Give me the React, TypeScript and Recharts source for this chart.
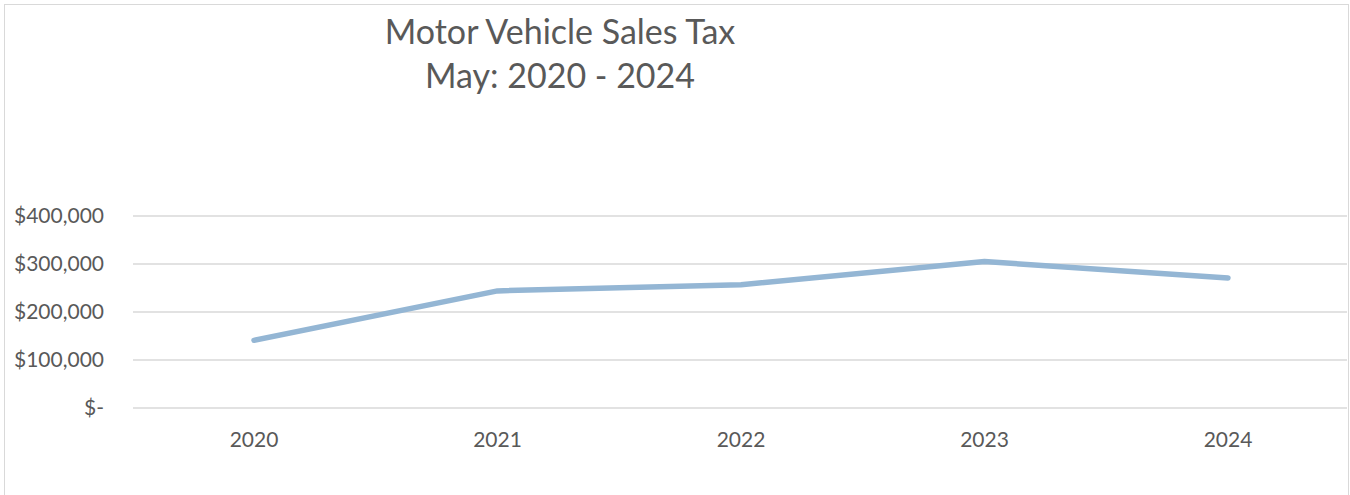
import React from 'react';
import { LineChart, Line, XAxis, YAxis, CartesianGrid } from 'recharts';

// Motor vehicle sales tax collected in May, by year
const years = ['2020', '2021', '2022', '2023', '2024'];
const salesTax = [141000, 244000, 257000, 305000, 271000];
const yTicks = [0, 100000, 200000, 300000, 400000];
const titleLines = ['Motor Vehicle Sales Tax', 'May: 2020 - 2024'];

const data = years.map((year, i) => ({ year, tax: salesTax[i] }));

const FONT = 'Lato, "Open Sans", sans-serif';
const TEXT = '#595959';
const GRID = '#d9d9d9';

const formatMoney = (v: number) => (v === 0 ? '$-' : '$' + v.toLocaleString('en-US'));

export default function App() {
  return (
    <div style={{ position: 'absolute', left: 0, top: 0, width: 1350, height: 495, background: '#fff', fontFamily: FONT }}>
      <div
        style={{
          position: 'absolute',
          left: 4,
          top: 4,
          width: 1345,
          height: 495,
          border: `1.5px solid ${GRID}`,
          boxSizing: 'border-box',
        }}
      />
      <svg width={1350} height={110} style={{ position: 'absolute', left: 0, top: 0 }}>
        <text x={560} y={44} textAnchor="middle" fontSize={34} fill={TEXT} fontFamily={FONT}>
          {titleLines[0]}
        </text>
        <text x={560} y={88} textAnchor="middle" fontSize={34} fill={TEXT} fontFamily={FONT}>
          {titleLines[1]}
        </text>
      </svg>
      <div style={{ position: 'absolute', left: 0, top: 0 }}>
        <LineChart width={1350} height={495} data={data} margin={{ top: 216, right: 3, bottom: 57, left: 0 }}>
          <CartesianGrid vertical={false} stroke={GRID} strokeWidth={1.5} />
          <XAxis
            dataKey="year"
            axisLine={false}
            tickLine={false}
            tickMargin={18}
            padding={{ left: 121, right: 119 }}
            tick={{ fill: TEXT, fontSize: 21, fontFamily: FONT }}
          />
          <YAxis
            width={133}
            domain={[0, 400000]}
            ticks={yTicks}
            axisLine={false}
            tickLine={false}
            tickMargin={23}
            tickFormatter={formatMoney}
            tick={{ fill: TEXT, fontSize: 21, fontFamily: FONT }}
          />
          <Line
            type="linear"
            dataKey="tax"
            stroke="#94b6d4"
            strokeWidth={5.5}
            strokeLinecap="round"
            strokeLinejoin="round"
            dot={false}
            activeDot={false}
            isAnimationActive={false}
          />
        </LineChart>
      </div>
    </div>
  );
}
